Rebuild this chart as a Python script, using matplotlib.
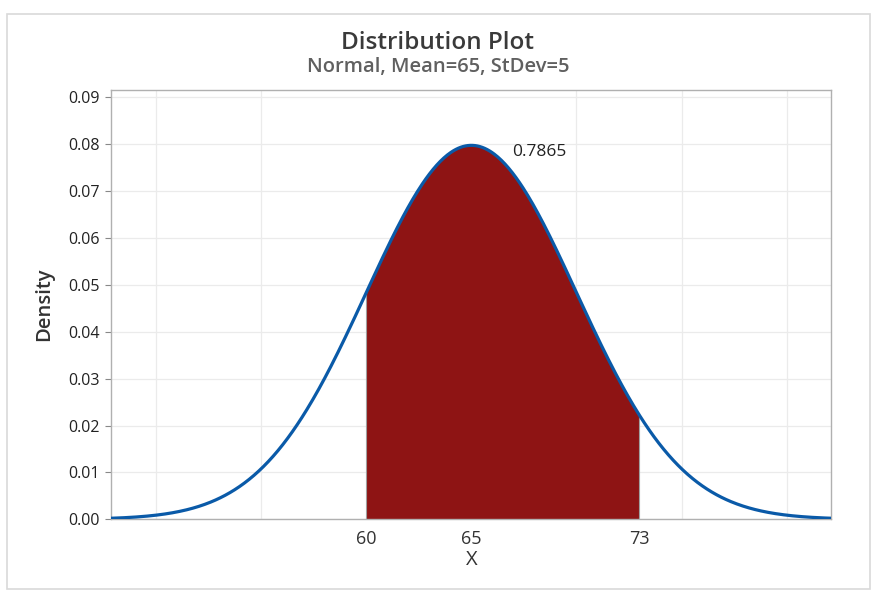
import numpy as np
import matplotlib
matplotlib.use("Agg")
import matplotlib.pyplot as plt
from matplotlib.patches import Rectangle

plt.rcParams['font.family'] = ['Open Sans', 'DejaVu Sans']

# distribution parameters
mean = 65
sd = 5
x_lo, x_hi = 60, 73
area_label = "0.7865"

# axis settings
x_range = [47.85, 82.1]
y_ticks = [0.00, 0.01, 0.02, 0.03, 0.04, 0.05, 0.06, 0.07, 0.08, 0.09]
x_tick_labels = [60, 65, 73]
x_grid = [50, 55, 60, 65, 70, 75, 80]


def pdf(x):
    return np.exp(-0.5 * ((x - mean) / sd) ** 2) / (sd * np.sqrt(2 * np.pi))


fig = plt.figure(figsize=(8.83, 5.98), dpi=100)
fig.patches.append(Rectangle((7 / 883, 9 / 598), 863 / 883, 575 / 598,
                             transform=fig.transFigure, fill=False,
                             edgecolor='#d9d9d9', linewidth=1.2))

ax = fig.add_axes([111 / 883, 1 - 519.3 / 598, 719.7 / 883, 429.3 / 598])

x = np.linspace(x_range[0], x_range[1], 600)
xs = np.linspace(x_lo, x_hi, 300)
ax.fill_between(xs, 0, pdf(xs), color='#8e1414', linewidth=0, zorder=2)
ax.vlines([x_lo, x_hi], 0, pdf(np.array([x_lo, x_hi])), color='#a0a0a0',
          linewidth=0.8, zorder=2.5)
ax.plot(x, pdf(x), color='#0a5aa8', linewidth=2.3, zorder=3)

ax.text(66.95, 0.0784, area_label, fontsize=12.5, color='#222222',
        ha='left', va='center')

ax.set_xlim(x_range)
ax.set_ylim(0, 0.0916)
ax.set_yticks(y_ticks)
ax.set_yticklabels([f"{v:.2f}" for v in y_ticks])
ax.set_xticks(x_tick_labels)
ax.set_xticks(x_grid, minor=True)
ax.tick_params(axis='x', which='both', length=0, labelsize=13, pad=8,
               colors='#333333')
ax.tick_params(axis='y', length=4, labelsize=11.5, colors='#222222',
               color='#888888', pad=4)
ax.grid(axis='x', which='minor', color='#ebebeb', linewidth=0.9)
ax.grid(axis='y', which='major', color='#ebebeb', linewidth=0.9)
ax.grid(axis='x', which='major', visible=False)
ax.set_axisbelow(True)
for s in ax.spines.values():
    s.set_color('#b0b0b0')
    s.set_linewidth(1.0)

ax.set_ylabel("Density", fontsize=14.5, color='#333333', fontweight='semibold',
              labelpad=10)
fig.text(471.7 / 883, 1 - 560 / 598, "X", fontsize=14.5, color='#333333',
         ha='center', va='center')

fig.text(0.496, 1 - 43 / 598, "Distribution Plot", fontsize=17.5,
         color='#3a3a3a', fontweight='semibold', ha='center', va='center')
fig.text(0.496, 1 - 67 / 598, "Normal, Mean=65, StDev=5", fontsize=14.5,
         color='#606060', fontweight='semibold', ha='center', va='center')

fig.savefig("out.png", dpi=100)
